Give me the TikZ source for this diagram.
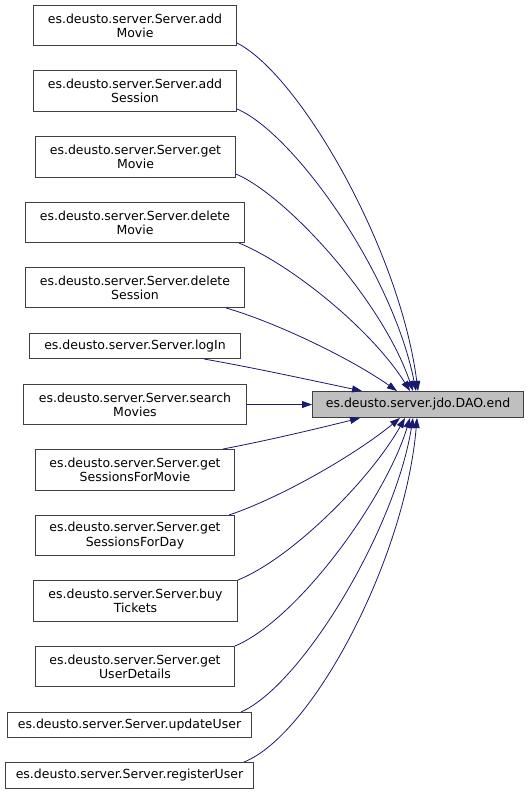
\documentclass[tikz,border=0pt]{standalone}
\usepackage{fontspec}
\setmainfont{DejaVu Sans}
\usetikzlibrary{calc,arrows.meta}
\definecolor{edgeblue}{HTML}{191970}
\definecolor{boxgray}{HTML}{404040}
\definecolor{daofill}{HTML}{BFBFBF}
\tikzset{
  fn/.style={draw=boxgray, line width=1pt, fill=white, anchor=north west, align=center,
    inner sep=0pt, font=\fontsize{12.5}{14.3}\selectfont},
  fn2/.style={fn, minimum height=40pt},
  fn1/.style={fn, minimum height=25pt},
  call/.style={draw=edgeblue, line width=0.8pt, -{Triangle[length=10pt,width=7pt]}, edgeblue}
}
\begin{document}
\begin{tikzpicture}[x=1pt,y=-1pt]
\useasboundingbox[fill=white] (0,0) rectangle (531,794);
\node[fn2, minimum width=203pt] (n1) at (33,5) {es.deusto.server.Server.add\\Movie};
\node[fn2, minimum width=203pt, minimum height=41pt] (n2) at (33,70) {es.deusto.server.Server.add\\Session};
\node[fn2, minimum width=200pt, minimum height=41pt] (n3) at (35,136) {es.deusto.server.Server.get\\Movie};
\node[fn2, minimum width=219pt] (n4) at (25,202) {es.deusto.server.Server.delete\\Movie};
\node[fn2, minimum width=219pt] (n5) at (25,267) {es.deusto.server.Server.delete\\Session};
\node[fn1, minimum width=211pt] (n6) at (29,333) {es.deusto.server.Server.logIn};
\node[fn2, minimum width=223pt] (n7) at (23,384) {es.deusto.server.Server.search\\Movies};
\node[fn2, minimum width=199pt, minimum height=41pt] (n8) at (35,449) {es.deusto.server.Server.get\\SessionsForMovie};
\node[fn2, minimum width=199pt] (n9) at (35,515) {es.deusto.server.Server.get\\SessionsForDay};
\node[fn2, minimum width=204pt, minimum height=41pt] (n10) at (33,580) {es.deusto.server.Server.buy\\Tickets};
\node[fn2, minimum width=199pt] (n11) at (35,646) {es.deusto.server.Server.get\\UserDetails};
\node[fn1, minimum width=244pt] (n12) at (7,712) {es.deusto.server.Server.updateUser};
\node[fn1, minimum width=248pt, minimum height=26pt] (n13) at (5,762) {es.deusto.server.Server.registerUser};
\node[fn1, minimum width=211pt, minimum height=26pt, fill=daofill] (dao) at (312,391) {es.deusto.server.jdo.DAO.end};

\draw[call] ($(n1.south east)+(0,-3)$) .. controls (300,75) and (400,250) .. ($(dao.north west)+(106,0)$);
\draw[call] ($(n2.south east)+(0,-3)$) .. controls (292,132) and (392,270) .. ($(dao.north west)+(104,0)$);
\draw[call] ($(n3.south east)+(0,-4)$) .. controls (287,196) and (382,300) .. ($(dao.north west)+(101,0)$);
\draw[call] ($(n4.south east)+(-6,0)$) .. controls (292,265) and (372,330) .. ($(dao.north west)+(98,0)$);
\draw[call] ($(n5.south east)+(-19,0)$) .. controls (275,322) and (350,358) .. ($(dao.north west)+(85,0)$);
\draw[call] ($(n6.south east)+(-37,0)$) .. controls (250,367) and (310,380) .. ($(dao.north west)+(50,0)$);
\draw[call] (n7.east) -- (dao.west);
\draw[call] ($(n8.north east)+(-12,0)$) .. controls (270,440) and (320,428) .. ($(dao.south west)+(48,0)$);
\draw[call] ($(n9.north east)+(-6,0)$) .. controls (280,498) and (355,455) .. ($(dao.south west)+(88,0)$);
\draw[call] (n10.north east) .. controls (292,558) and (370,480) .. ($(dao.south west)+(93,0)$);
\draw[call] (n11.north east) .. controls (297,620) and (385,500) .. ($(dao.south west)+(98,0)$);
\draw[call] ($(n12.north east)+(-11,0)$) .. controls (302,685) and (395,530) .. ($(dao.south west)+(101,0)$);
\draw[call] ($(n13.north east)+(-10,0)$) .. controls (312,735) and (405,560) .. ($(dao.south west)+(105,0)$);
\end{tikzpicture}
\end{document}
